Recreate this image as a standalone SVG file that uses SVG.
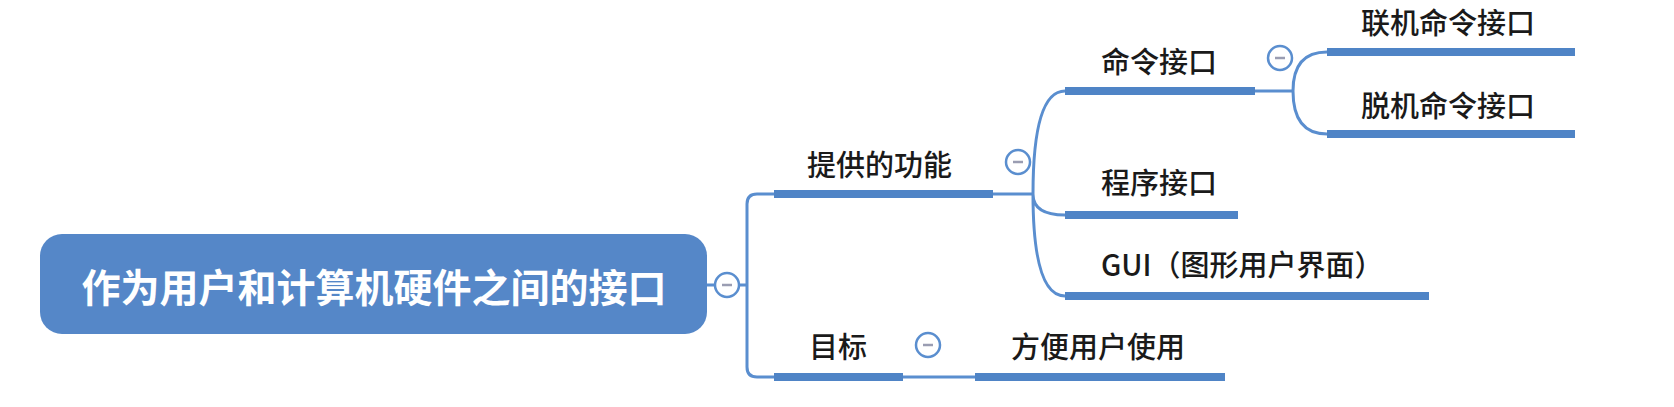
<svg xmlns="http://www.w3.org/2000/svg" width="1674" height="407" viewBox="0 0 1674 407">
<style>
.t{font-family:"Noto Sans CJK SC","Liberation Sans",sans-serif;font-size:29px;font-weight:500;fill:#1a1a1a}
.root{font-family:"Noto Sans CJK SC","Liberation Sans",sans-serif;font-size:39px;font-weight:bold;fill:#ffffff}
.ul{stroke:#4f84c6;stroke-width:8;fill:none}
.c{stroke:#5a8ecf;stroke-width:3;fill:none}
.col circle{fill:#ffffff;stroke:#5a8ecf;stroke-width:2.5}
.col line{stroke:#9a9db2;stroke-width:2.5}
</style>
<rect width="1674" height="407" fill="#ffffff"/>
<g id="connectors">
<path class="c" d="M707,285 H747 M747,285 V204 Q747,194 757,194 H774 M747,285 V367 Q747,377 757,377 H774"/>
<path class="c" d="M993,194 H1033 M1033,194 Q1033,91 1065,91 M1033,194 Q1033,215 1065,215 M1033,194 Q1033,296 1065,296"/>
<path class="c" d="M1255,91 H1293 M1293,91 Q1293,52 1327,52 M1293,91 Q1293,134 1327,134"/>
<path class="c" d="M903,377 H975"/>
</g>
<g id="root">
<rect x="40" y="234" width="667" height="100" rx="22" fill="#5587c8"/>
<text class="root" x="374" y="302" text-anchor="middle">作为用户和计算机硬件之间的接口</text>
<g class="col"><circle cx="727" cy="285" r="12"/><line x1="722" y1="285" x2="732" y2="285"/></g>
</g>
<g id="n-functions">
<text class="t" x="807" y="176">提供的功能</text>
<line class="ul" x1="774" y1="194" x2="993" y2="194"/>
<g class="col"><circle cx="1018" cy="162" r="12"/><line x1="1013" y1="162" x2="1023" y2="162"/></g>
</g>
<g id="n-command">
<text class="t" x="1101" y="73">命令接口</text>
<line class="ul" x1="1065" y1="91" x2="1255" y2="91"/>
<g class="col"><circle cx="1280" cy="58" r="12"/><line x1="1275" y1="58" x2="1285" y2="58"/></g>
</g>
<g id="n-online">
<text class="t" x="1361" y="34">联机命令接口</text>
<line class="ul" x1="1327" y1="52" x2="1575" y2="52"/>
</g>
<g id="n-offline">
<text class="t" x="1361" y="117">脱机命令接口</text>
<line class="ul" x1="1327" y1="134" x2="1575" y2="134"/>
</g>
<g id="n-program">
<text class="t" x="1101" y="194">程序接口</text>
<line class="ul" x1="1065" y1="215" x2="1238" y2="215"/>
</g>
<g id="n-gui">
<text class="t" x="1101" y="276">GUI（图形用户界面）</text>
<line class="ul" x1="1065" y1="296" x2="1429" y2="296"/>
</g>
<g id="n-goal">
<text class="t" x="809" y="358">目标</text>
<line class="ul" x1="774" y1="377" x2="903" y2="377"/>
<g class="col"><circle cx="928" cy="345" r="12"/><line x1="923" y1="345" x2="933" y2="345"/></g>
</g>
<g id="n-convenient">
<text class="t" x="1011" y="358">方便用户使用</text>
<line class="ul" x1="975" y1="377" x2="1225" y2="377"/>
</g>
</svg>
